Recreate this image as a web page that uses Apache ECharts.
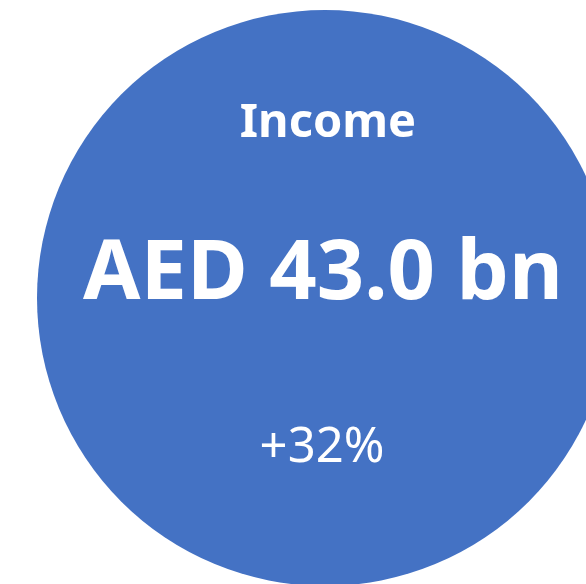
<!DOCTYPE html>
<html>
<head>
<meta charset="utf-8">
<script src="https://cdn.jsdelivr.net/npm/echarts@6/dist/echarts.min.js"></script>
<style>
  html, body { margin: 0; padding: 0; background: #fff; }
  #container { width: 586px; height: 584px; }
</style>
</head>
<body>
<div id="container"></div>
<script>
var categories = ['Income'];
var values = [43.0];
var valueLabels = ['AED 43.0 bn'];
var changeLabels = ['+32%'];

var dom = document.getElementById('container');
var myChart = echarts.init(dom);

var pieData = categories.map(function (name, i) {
    return { name: name, value: values[i] };
});

var option = {
    animation: false,
    color: ['#4472C4'],
    series: [
        {
            type: 'pie',
            center: [325, 298],
            radius: [0, 288],
            silent: true,
            z: 1,
            label: { show: false },
            labelLine: { show: false },
            data: pieData
        }
    ],
    graphic: {
        elements: [
            {
                type: 'text', z: 100,
                style: {
                    x: 328, y: 124, text: categories[0],
                    fill: '#fff', font: 'bold 47px "Noto Sans"',
                    textAlign: 'center', textVerticalAlign: 'middle'
                }
            },
            {
                type: 'text', z: 100,
                style: {
                    x: 323, y: 275, text: valueLabels[0],
                    fill: '#fff', font: 'bold 83px "Noto Sans"',
                    textAlign: 'center', textVerticalAlign: 'middle'
                }
            },
            {
                type: 'text', z: 100,
                style: {
                    x: 322, y: 448, text: changeLabels[0],
                    fill: '#fff', font: '49px "Noto Sans"',
                    textAlign: 'center', textVerticalAlign: 'middle'
                }
            }
        ]
    }
};

myChart.setOption(option, true);
</script>
</body>
</html>
